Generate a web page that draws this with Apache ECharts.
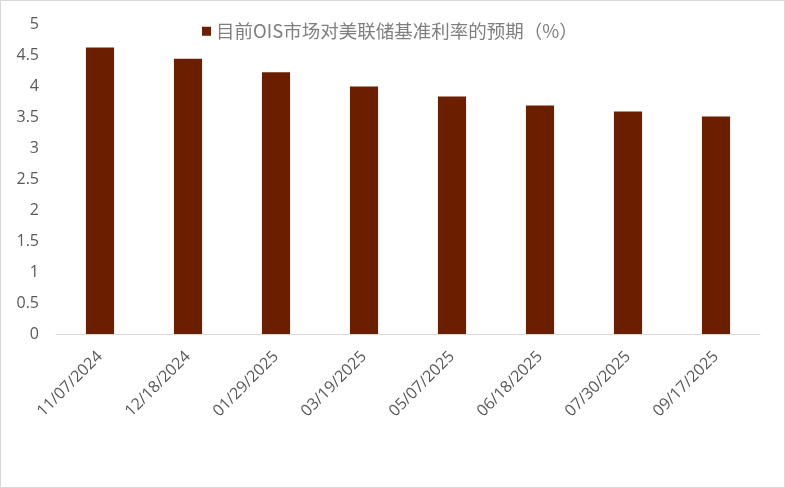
<!DOCTYPE html>
<html>
<head>
<meta charset="utf-8">
<script src="https://cdn.jsdelivr.net/npm/echarts@6/dist/echarts.min.js"></script>
<style>
  html, body { margin: 0; padding: 0; background: #fff; }
  #chart { position: absolute; left: 0; top: 0; width: 783px; height: 486px; border: 1px solid #d9d9d9; }
</style>
</head>
<body>
<div id="chart"></div>
<script>
// data
var dates = ['11/07/2024', '12/18/2024', '01/29/2025', '03/19/2025', '05/07/2025', '06/18/2025', '07/30/2025', '09/17/2025'];
var rates = [4.62, 4.44, 4.22, 3.99, 3.83, 3.685, 3.59, 3.51];
var seriesName = '目前OIS市场对美联储基准利率的预期（%）';

var chart = echarts.init(document.getElementById('chart'));
var option = {
    animation: false,
    legend: {
        top: 16,
        left: 196,
        icon: 'rect',
        itemWidth: 9,
        itemHeight: 9,
        itemGap: 8,
        textStyle: {
            fontSize: 18.5,
            color: '#7f7f7f',
            fontFamily: 'Noto Sans CJK SC'
        },
        data: [seriesName]
    },
    grid: { left: 55, right: 24, top: 23, bottom: 153 },
    xAxis: {
        type: 'category',
        data: dates,
        axisTick: { show: false },
        axisLine: {
            lineStyle: { color: '#d9d9d9', width: 1 }
        },
        axisLabel: {
            rotate: 45,
            interval: 0,
            margin: 20,
            fontSize: 16,
            color: '#595959',
            fontFamily: 'Open Sans'
        }
    },
    yAxis: {
        type: 'value',
        min: 0,
        max: 5,
        interval: 0.5,
        axisLine: { show: false },
        axisTick: { show: false },
        splitLine: { show: false },
        axisLabel: {
            margin: 17,
            fontSize: 16,
            color: '#595959',
            fontFamily: 'Open Sans'
        }
    },
    series: [{
        name: seriesName,
        type: 'bar',
        barWidth: '32%',
        itemStyle: { color: '#6b1e00' },
        data: rates
    }]
};
chart.setOption(option);
</script>
</body>
</html>
